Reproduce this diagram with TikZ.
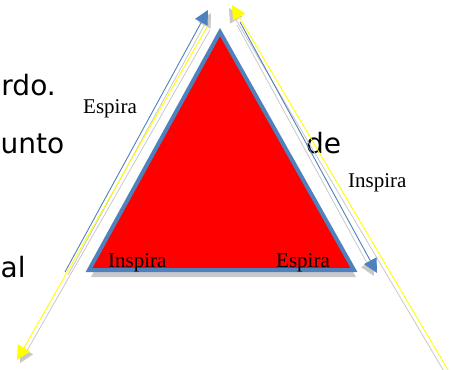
\documentclass[tikz,border=0pt]{standalone}
\usepackage{fontspec}
\setmainfont{Liberation Serif}
\newfontfamily\bgfont{DejaVu Sans}
\usetikzlibrary{arrows.meta}
\definecolor{ofblue}{HTML}{4F81BD}
\definecolor{ylw}{HTML}{FFFF00}
\definecolor{shd}{HTML}{C8C8C8}
\begin{document}
\begin{tikzpicture}[x=1pt,y=-1pt,
  lab/.style={font=\fontsize{21}{21}\selectfont, inner sep=0pt, text=black},
  bgtext/.style={font=\bgfont\fontsize{28}{28}\selectfont, inner sep=0pt, text=black},
  arr/.style={line width=0.9pt},
  shadowarr/.style={draw=shd, line width=0.8pt, -{Triangle[length=14pt,width=14pt,fill=shd]}}]
\useasboundingbox (0,0) rectangle (451,370);
% background text fragments
\node[bgtext, anchor=base east] (t1) at (56,95) {rdo.};
\node[bgtext, anchor=base west] (t2) at (0.5,153) {unto};
\node[bgtext, anchor=base west] (t3) at (306,153) {de};
\node[bgtext, anchor=base west] (t4) at (0.5,277) {al};
% triangle
\coordinate (A) at (220,32);
\coordinate (L) at (89,270);
\coordinate (R) at (354,270);
\fill[shd] ([shift={(2,7)}]A) -- ([shift={(2,7)}]L) -- ([shift={(2,7)}]R) -- cycle;
\draw[ofblue, line width=4pt, fill=red, line join=miter] (A) -- (L) -- (R) -- cycle;
% arrow end points
\coordinate (lb1) at (65,272);
\coordinate (lb2) at (208,10);
\coordinate (ly1) at (207,27);
\coordinate (ly2) at (17,360);
\coordinate (ry1) at (448,370);
\coordinate (ry2) at (232,5);
\coordinate (rb1) at (240,22);
\coordinate (rb2) at (377,273);
% shadows of arrows
\draw[shadowarr] ([shift={(3,3)}]lb1) -- ([shift={(3,3)}]lb2);
\draw[shadowarr] ([shift={(3,3)}]ly1) -- ([shift={(3,3)}]ly2);
\draw[shadowarr] ([shift={(-3,3)}]ry1) -- ([shift={(-3,3)}]ry2);
\draw[shadowarr] ([shift={(-3,3)}]rb1) -- ([shift={(-3,3)}]rb2);
% arrows
\draw[arr, ofblue, -{Triangle[length=14pt,width=14pt,fill=ofblue]}] (lb1) -- (lb2);
\draw[arr, ylw, -{Triangle[length=14pt,width=14pt,fill=ylw]}] (ly1) -- (ly2);
\draw[arr, ylw, -{Triangle[length=14pt,width=14pt,fill=ylw]}] (ry1) -- (ry2);
\draw[arr, ofblue, -{Triangle[length=14pt,width=14pt,fill=ofblue]}] (rb1) -- (rb2);
% labels
\node[lab, anchor=base west] (e1) at (83,113) {Espira};
\node[lab, anchor=base west] (i1) at (348,187) {Inspira};
\node[lab, anchor=base west] (i2) at (108,267) {Inspira};
\node[lab, anchor=base west] (e2) at (276,267) {Espira};
\end{tikzpicture}
\end{document}
